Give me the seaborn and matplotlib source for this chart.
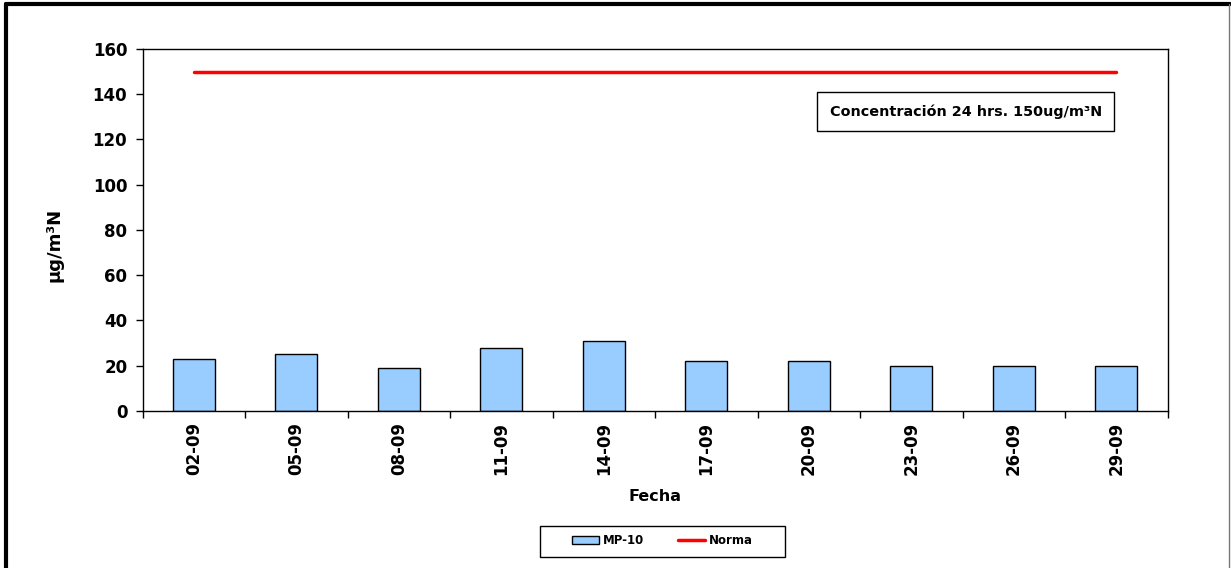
import matplotlib
matplotlib.use('Agg')
import matplotlib.pyplot as plt
import seaborn as sns
import pandas as pd
from matplotlib.lines import Line2D
from matplotlib.patches import Rectangle

# Datos MP-10 (ug/m3N) por fecha
fechas = ["02-09", "05-09", "08-09", "11-09", "14-09",
          "17-09", "20-09", "23-09", "26-09", "29-09"]
mp10 = [23, 25, 19, 28, 31, 22, 22, 20, 20, 20]
norma = [150] * len(fechas)

df = pd.DataFrame({"Fecha": fechas, "MP-10": mp10, "Norma": norma})

sns.set_theme(style="white")
plt.rcParams['font.family'] = ['DejaVu Sans']
plt.rcParams['font.weight'] = 'bold'
plt.rcParams['text.color'] = 'black'
plt.rcParams['axes.labelcolor'] = 'black'
plt.rcParams['xtick.color'] = 'black'
plt.rcParams['ytick.color'] = 'black'

fig = plt.figure(figsize=(12.31, 5.68), dpi=100)
ax = fig.add_axes([0.1158, 0.2764, 0.8327, 0.6374])

sns.barplot(data=df, x="Fecha", y="MP-10", color="#99CCFF", width=0.41,
            edgecolor="black", linewidth=1, saturation=1, ax=ax, label="MP-10")
sns.lineplot(data=df, x="Fecha", y="Norma", color="#FF0000", linewidth=2.5,
             ax=ax, label="Norma")

ax.set_ylim(0, 160)
ax.set_xlim(-0.5, len(fechas) - 0.5)
ax.set_yticks(range(0, 161, 20))
ax.set_yticklabels([str(v) for v in range(0, 161, 20)], fontsize=12, fontweight="bold")
ax.set_xticks(range(len(fechas)))
ax.set_xticklabels(fechas, rotation=90, fontsize=12, fontweight="bold")
ax.tick_params(axis="x", length=0, pad=8)
ax.tick_params(axis="y", left=True, length=5, width=1, color="black", pad=6)
# marcas del eje x entre categorias
ax.set_xticks([i - 0.5 for i in range(len(fechas) + 1)], minor=True)
ax.tick_params(axis="x", which="minor", bottom=True, length=5, width=1, color="black")

for s in ax.spines.values():
    s.set_color("black")
    s.set_linewidth(1)

ax.set_xlabel("Fecha", fontsize=11.5, fontweight="bold", labelpad=10)
ax.set_ylabel("µg/m³N", fontsize=13, fontweight="bold")
ax.yaxis.set_label_coords(-0.077, 0.459)

ax.text(0.803, 0.826, "Concentración 24 hrs. 150ug/m³N", transform=ax.transAxes,
        ha="center", va="center", fontsize=10.4, fontweight="bold",
        bbox=dict(boxstyle="square,pad=0.85", facecolor="white", edgecolor="black", linewidth=1))

# leyenda sin marco + caja propia
handles, labels = ax.get_legend_handles_labels()
orden = [labels.index("MP-10"), labels.index("Norma")]
leg = ax.legend([handles[i] for i in orden], [labels[i] for i in orden],
                loc="center", bbox_to_anchor=(0.507, -0.359), ncol=2, frameon=False,
                fontsize=8.5, handlelength=2.3, columnspacing=2.9,
                handletextpad=0.3, borderaxespad=0)
for t in leg.get_texts():
    t.set_fontweight("bold")
fig.add_artist(Rectangle((540 / 1231, 1 - 557 / 568), 245 / 1231, 31 / 568,
                         transform=fig.transFigure, fill=False,
                         edgecolor="black", linewidth=1))

# marco exterior del grafico
fig.add_artist(Line2D([0.0045, 0.0045], [0, 0.993], transform=fig.transFigure, color="black", linewidth=3))
fig.add_artist(Line2D([0.0045, 0.999], [0.9925, 0.9925], transform=fig.transFigure, color="black", linewidth=3))
fig.add_artist(Line2D([0.9985, 0.9985], [0, 0.993], transform=fig.transFigure, color="#777777", linewidth=1))

fig.savefig("out.png", dpi=100, facecolor="white")
